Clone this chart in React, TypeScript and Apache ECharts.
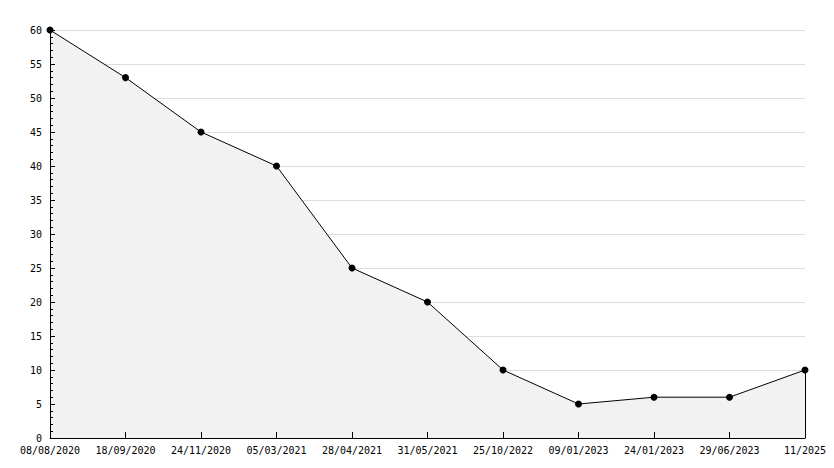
import React, { useEffect, useRef } from "react";
import * as echarts from "echarts";

const categories = [
  "08/08/2020",
  "18/09/2020",
  "24/11/2020",
  "05/03/2021",
  "28/04/2021",
  "31/05/2021",
  "25/10/2022",
  "09/01/2023",
  "24/01/2023",
  "29/06/2023",
  "11/2025",
];
const values = [60, 53, 45, 40, 25, 20, 10, 5, 6, 6, 10];
const yMin = 0;
const yMax = 60;
const yInterval = 5;

const FONT = "'DejaVu Sans Mono', monospace";

export default function App() {
  const ref = useRef<HTMLDivElement>(null);
  useEffect(() => {
    if (!ref.current) return;
    const chart = echarts.init(ref.current, null, { renderer: "svg" });
    const lastCat = categories[categories.length - 1];
    const lastVal = values[values.length - 1];
    chart.setOption({
      animation: false,
      backgroundColor: "#ffffff",
      grid: { left: 50, right: 29, top: 30, bottom: 30, containLabel: false },
      xAxis: {
        type: "category",
        data: categories,
        boundaryGap: false,
        z: 5,
        axisLine: { show: true, lineStyle: { color: "#000", width: 1 } },
        axisTick: { show: true, inside: true, length: 6, lineStyle: { color: "#000" } },
        axisLabel: {
          color: "#000",
          fontFamily: FONT,
          fontSize: 10,
          margin: 7,
          interval: 0,
        },
        splitLine: { show: false },
      },
      yAxis: [
        {
          type: "value",
          min: yMin,
          max: yMax,
          interval: yInterval,
          z: 0,
          axisLine: { show: false },
          axisTick: { show: false },
          axisLabel: { show: false },
          splitLine: { show: true, lineStyle: { color: "#dddddd", width: 1 } },
        },
        {
          type: "value",
          position: "left",
          min: yMin,
          max: yMax,
          interval: yInterval,
          z: 5,
          axisLine: { show: true, lineStyle: { color: "#000", width: 1 } },
          axisTick: { show: true, inside: true, length: 5, lineStyle: { color: "#000" } },
          minorTick: { show: true, splitNumber: 5, length: 3, lineStyle: { color: "#000" } },
          axisLabel: { color: "#000", fontFamily: FONT, fontSize: 10, margin: 8 },
          splitLine: { show: false },
        },
      ],
      series: [
        {
          type: "line",
          yAxisIndex: 0,
          z: 2,
          data: values,
          symbol: "circle",
          symbolSize: 7,
          itemStyle: { color: "#000" },
          lineStyle: { color: "#000", width: 1 },
          areaStyle: { color: "#f2f2f2", opacity: 1 },
          markLine: {
            silent: true,
            symbol: "none",
            label: { show: false },
            lineStyle: { color: "#000", width: 1, type: "solid" },
            data: [[{ coord: [lastCat, yMin] }, { coord: [lastCat, lastVal] }]],
          },
        },
      ],
    });
    return () => chart.dispose();
  }, []);
  return <div ref={ref} style={{ width: 834, height: 468, margin: -8 }} />;
}
